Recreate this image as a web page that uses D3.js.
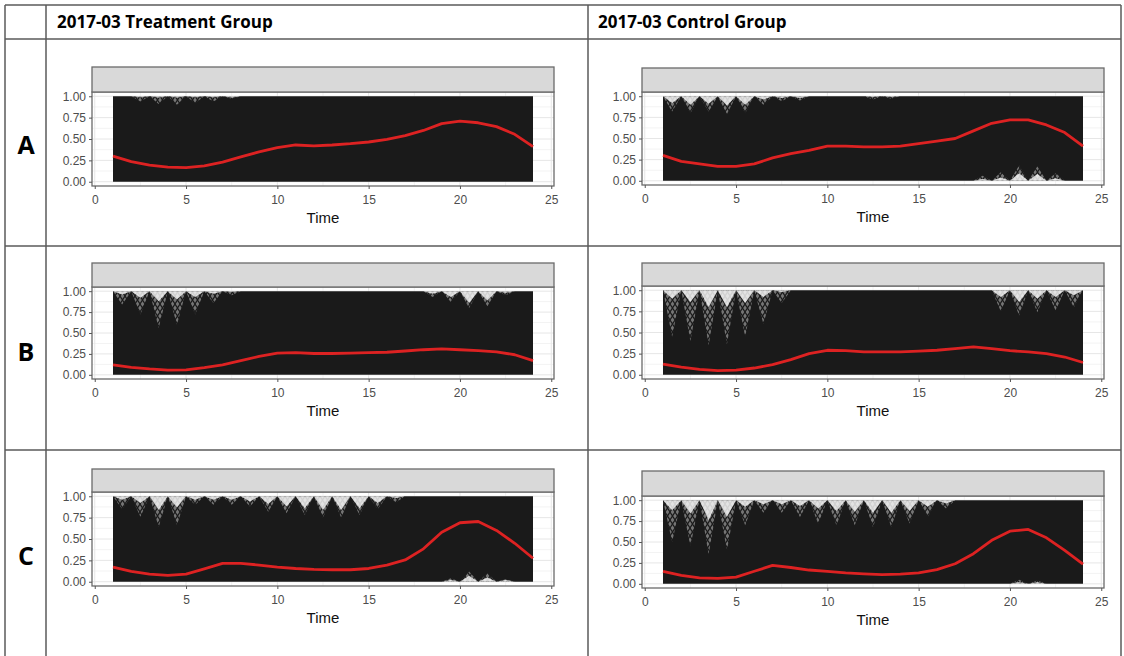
<!DOCTYPE html>
<html>
<head>
<meta charset="utf-8">
<script src="https://cdn.jsdelivr.net/npm/d3@7"></script>
<style>
  body { margin: 0; background: #fff; }
  svg { display: block; }
  .hdr { font-family: "Open Sans", sans-serif; font-weight: 700; font-size: 17px; fill: #000; }
  .rowlab { font-family: "Open Sans", sans-serif; font-weight: 700; font-size: 25px; fill: #000; }
  .axis text { font-family: "Liberation Sans", Arial, sans-serif; font-size: 12px; fill: #4d4d4d; }
  .axis line { stroke: #555; }
  .axis path { display: none; }
  .xlab { font-family: "Liberation Sans", Arial, sans-serif; font-size: 15px; fill: #111; }
</style>
</head>
<body>
<svg id="chart" width="1124" height="656"></svg>
<script>
// ---- data ----
const groups = ["2017-03 Treatment Group", "2017-03 Control Group"];
const rowLabels = ["A", "B", "C"];
const times = [1, 2, 3, 4, 5, 6, 7, 8, 9, 10, 11, 12, 13, 14, 15, 16, 17, 18, 19, 20, 21, 22, 23, 24];
const xTicks = [0, 5, 10, 15, 20, 25];
const yTicks = [0, 0.25, 0.5, 0.75, 1];
const bandRange = [0, 1]; // the spaghetti lines fill 0..1

// red smoothed mean, one value per time point
const smoothAT = [0.30, 0.235, 0.195, 0.17, 0.165, 0.185, 0.23, 0.29, 0.35, 0.40, 0.43, 0.42, 0.43, 0.445, 0.465, 0.495, 0.54, 0.60, 0.68, 0.71, 0.69, 0.645, 0.555, 0.41];
const smoothAC = [0.30, 0.23, 0.20, 0.17, 0.17, 0.20, 0.27, 0.32, 0.36, 0.41, 0.41, 0.40, 0.40, 0.41, 0.44, 0.47, 0.50, 0.59, 0.68, 0.72, 0.72, 0.66, 0.57, 0.41];
const smoothBT = [0.12, 0.09, 0.07, 0.055, 0.06, 0.085, 0.12, 0.17, 0.22, 0.26, 0.265, 0.255, 0.255, 0.26, 0.265, 0.27, 0.285, 0.30, 0.31, 0.30, 0.29, 0.275, 0.24, 0.17];
const smoothBC = [0.125, 0.09, 0.065, 0.05, 0.055, 0.08, 0.12, 0.18, 0.25, 0.29, 0.285, 0.27, 0.27, 0.27, 0.28, 0.29, 0.31, 0.33, 0.31, 0.285, 0.27, 0.25, 0.21, 0.145];
const smoothCT = [0.17, 0.12, 0.09, 0.075, 0.09, 0.15, 0.215, 0.215, 0.195, 0.17, 0.155, 0.145, 0.14, 0.14, 0.155, 0.195, 0.255, 0.385, 0.58, 0.69, 0.705, 0.60, 0.45, 0.275];
const smoothCC = [0.15, 0.10, 0.07, 0.065, 0.08, 0.15, 0.22, 0.195, 0.165, 0.15, 0.13, 0.12, 0.11, 0.115, 0.13, 0.17, 0.24, 0.36, 0.52, 0.63, 0.65, 0.55, 0.40, 0.235];

// gaps in the line bundle: [midpoint time, depth of clear gap, depth of sparse zone]
const gapsTopAT = [[2.5, 0.99, 0.94], [3.5, 0.985, 0.91], [4.5, 0.985, 0.9], [5.5, 0.99, 0.92], [6.5, 0.99, 0.94], [7.5, 0.985, 0.97]];
const gapsBotAT = [];
const gapsTopAC = [[1.5, 0.92, 0.82], [2.5, 0.9, 0.8], [3.5, 0.91, 0.82], [4.5, 0.89, 0.79], [5.5, 0.9, 0.8], [6.5, 0.96, 0.9], [7.5, 0.98, 0.94], [8.5, 0.98, 0.95], [12.5, 0.99, 0.96], [13.5, 0.99, 0.97]];
const gapsBotAC = [[18.5, 0.02, 0.06], [19.5, 0.04, 0.1], [20.5, 0.09, 0.18], [21.5, 0.08, 0.17], [22.5, 0.03, 0.09]];
const gapsTopBT = [[1.5, 0.96, 0.84], [2.5, 0.92, 0.72], [3.5, 0.88, 0.56], [4.5, 0.9, 0.6], [5.5, 0.93, 0.72], [6.5, 0.97, 0.86], [7.5, 0.99, 0.95], [18.5, 0.97, 0.93], [19.5, 0.93, 0.87], [20.5, 0.86, 0.8], [21.5, 0.89, 0.82], [22.5, 0.98, 0.95]];
const gapsBotBT = [];
const gapsTopBC = [[1.5, 0.9, 0.45], [2.5, 0.86, 0.4], [3.5, 0.8, 0.35], [4.5, 0.8, 0.36], [5.5, 0.85, 0.45], [6.5, 0.92, 0.6], [7.5, 0.98, 0.85], [19.5, 0.92, 0.75], [20.5, 0.86, 0.7], [21.5, 0.9, 0.74], [22.5, 0.92, 0.76], [23.5, 0.94, 0.8]];
const gapsBotBC = [];
const gapsTopCT = [[1.5, 0.96, 0.85], [2.5, 0.92, 0.76], [3.5, 0.84, 0.64], [4.5, 0.87, 0.66], [5.5, 0.96, 0.9], [6.5, 0.96, 0.9], [7.5, 0.96, 0.9], [8.5, 0.94, 0.88], [9.5, 0.91, 0.82], [10.5, 0.88, 0.8], [11.5, 0.86, 0.78], [12.5, 0.84, 0.75], [13.5, 0.84, 0.75], [14.5, 0.86, 0.78], [15.5, 0.92, 0.85], [16.5, 0.98, 0.93]];
const gapsBotCT = [[19.5, 0.02, 0.04], [20.5, 0.07, 0.12], [21.5, 0.05, 0.1], [22.5, 0.02, 0.03]];
const gapsTopCC = [[1.5, 0.88, 0.5], [2.5, 0.84, 0.45], [3.5, 0.76, 0.35], [4.5, 0.8, 0.4], [5.5, 0.92, 0.7], [6.5, 0.95, 0.85], [7.5, 0.95, 0.85], [8.5, 0.93, 0.8], [9.5, 0.9, 0.72], [10.5, 0.87, 0.7], [11.5, 0.86, 0.7], [12.5, 0.85, 0.68], [13.5, 0.85, 0.68], [14.5, 0.87, 0.72], [15.5, 0.92, 0.8], [16.5, 0.96, 0.9]];
const gapsBotCC = [[20.5, 0.02, 0.05], [21.5, 0.02, 0.04]];

// ---- layout ----
const panelW = 462;
const panels = [
  {smooth: smoothAT, top: gapsTopAT, bot: gapsBotAT, stripTop: 67, pTop: 92, pBottom: 186, left: 92},
  {smooth: smoothAC, top: gapsTopAC, bot: gapsBotAC, stripTop: 68, pTop: 92, pBottom: 185, left: 642},
  {smooth: smoothBT, top: gapsTopBT, bot: gapsBotBT, stripTop: 263, pTop: 287, pBottom: 379, left: 92},
  {smooth: smoothBC, top: gapsTopBC, bot: gapsBotBC, stripTop: 263, pTop: 286, pBottom: 379, left: 642},
  {smooth: smoothCT, top: gapsTopCT, bot: gapsBotCT, stripTop: 469, pTop: 492, pBottom: 586, left: 92},
  {smooth: smoothCC, top: gapsTopCC, bot: gapsBotCC, stripTop: 471, pTop: 496, pBottom: 588, left: 642}
];

const svg = d3.select("#chart");

// cross hatch for the sparse parts of the line bundle
const defs = svg.append("defs");
const pat = defs.append("pattern")
  .attr("id", "hatch")
  .attr("patternUnits", "userSpaceOnUse")
  .attr("width", 5)
  .attr("height", 8);
pat.append("rect").attr("width", 5).attr("height", 8).attr("fill", "#8c8c8c");
pat.append("path").attr("d", "M0,0L5,8M5,0L0,8").attr("stroke", "#1a1a1a").attr("stroke-width", 1.2);

// ---- table frame ----
const frame = svg.append("g").attr("stroke", "#5a5a5a").attr("stroke-width", 1.5);
[5, 46, 588, 1121].forEach(x => {
  frame.append("line").attr("x1", x).attr("x2", x).attr("y1", 5).attr("y2", 656);
});
[5, 39, 246, 450].forEach(y => {
  frame.append("line").attr("x1", 5).attr("x2", 1121).attr("y1", y).attr("y2", y);
});

svg.selectAll(".hdr")
  .data(groups)
  .enter()
  .append("text")
  .attr("class", "hdr")
  .attr("x", (d, i) => i === 0 ? 57 : 598)
  .attr("y", 28)
  .text(d => d);

const rowY = [145, 352, 556];
svg.selectAll(".rowlab")
  .data(rowLabels)
  .enter()
  .append("text")
  .attr("class", "rowlab")
  .attr("x", 26)
  .attr("y", (d, i) => rowY[i] + 9)
  .attr("text-anchor", "middle")
  .text(d => d);

// ---- panels ----
panels.forEach(p => {
  const x = d3.scaleLinear().domain([-0.15, 25.15]).range([p.left, p.left + panelW]);
  const y = d3.scaleLinear().domain([-0.05, 1.05]).range([p.pBottom, p.pTop]);
  const g = svg.append("g");

  // grid
  const minorX = xTicks.slice(1).map(t => t - 2.5);
  const minorY = yTicks.slice(1).map(t => t - 0.125);
  g.selectAll(".mgx").data(minorX).enter().append("line")
    .attr("x1", d => x(d)).attr("x2", d => x(d)).attr("y1", p.pTop).attr("y2", p.pBottom)
    .attr("stroke", "#f3f3f3");
  g.selectAll(".mgy").data(minorY).enter().append("line")
    .attr("x1", p.left).attr("x2", p.left + panelW).attr("y1", d => y(d)).attr("y2", d => y(d))
    .attr("stroke", "#f3f3f3");
  g.selectAll(".gx").data(xTicks).enter().append("line")
    .attr("x1", d => x(d)).attr("x2", d => x(d)).attr("y1", p.pTop).attr("y2", p.pBottom)
    .attr("stroke", "#e6e6e6");
  g.selectAll(".gy").data(yTicks).enter().append("line")
    .attr("x1", p.left).attr("x2", p.left + panelW).attr("y1", d => y(d)).attr("y2", d => y(d))
    .attr("stroke", "#e6e6e6");

  // the black bundle of individual lines
  const band = d3.area()
    .x(d => x(d))
    .y0(y(bandRange[0]))
    .y1(y(bandRange[1]));
  g.append("path").datum(times).attr("d", band).attr("fill", "#1a1a1a");

  // gaps at the top and bottom edge of the bundle
  const tri = d3.line().x(d => x(d[0])).y(d => y(d[1]));
  const topTri = (m, v) => tri([[m - 0.5, 1], [m, v], [m + 0.5, 1]]) + "Z";
  const botTri = (m, v) => tri([[m - 0.5, 0], [m, v], [m + 0.5, 0]]) + "Z";
  p.top.forEach(([m, clear, sparse]) => {
    g.append("path").attr("d", topTri(m, sparse)).attr("fill", "url(#hatch)").attr("opacity", 0.8);
    g.append("path").attr("d", topTri(m, clear)).attr("fill", "#fff").attr("opacity", 0.8);
  });
  p.bot.forEach(([m, clear, sparse]) => {
    g.append("path").attr("d", botTri(m, sparse)).attr("fill", "url(#hatch)").attr("opacity", 0.8);
    g.append("path").attr("d", botTri(m, clear)).attr("fill", "#fff").attr("opacity", 0.8);
  });

  // red smoothed mean
  const line = d3.line().x((d, i) => x(times[i])).y(d => y(d));
  g.append("path").datum(p.smooth).attr("d", line)
    .attr("fill", "none").attr("stroke", "#dd2222").attr("stroke-width", 2.8)
    .attr("stroke-linejoin", "round");

  // panel border and empty strip
  g.append("rect")
    .attr("x", p.left).attr("y", p.pTop).attr("width", panelW).attr("height", p.pBottom - p.pTop)
    .attr("fill", "none").attr("stroke", "#6a6a6a").attr("stroke-width", 1.3);
  g.append("rect")
    .attr("x", p.left).attr("y", p.stripTop).attr("width", panelW).attr("height", p.pTop - p.stripTop)
    .attr("fill", "#d9d9d9").attr("stroke", "#6a6a6a").attr("stroke-width", 1.3);

  // axes
  g.append("g").attr("class", "axis")
    .attr("transform", `translate(${p.left},0)`)
    .call(d3.axisLeft(y).tickValues(yTicks).tickFormat(d3.format(".2f")).tickSize(3).tickPadding(3));
  g.append("g").attr("class", "axis")
    .attr("transform", `translate(0,${p.pBottom})`)
    .call(d3.axisBottom(x).tickValues(xTicks).tickSize(3).tickPadding(6));

  g.append("text").attr("class", "xlab")
    .attr("x", p.left + panelW / 2)
    .attr("y", p.pBottom + 37)
    .attr("text-anchor", "middle")
    .text("Time");
});
</script>
</body>
</html>
